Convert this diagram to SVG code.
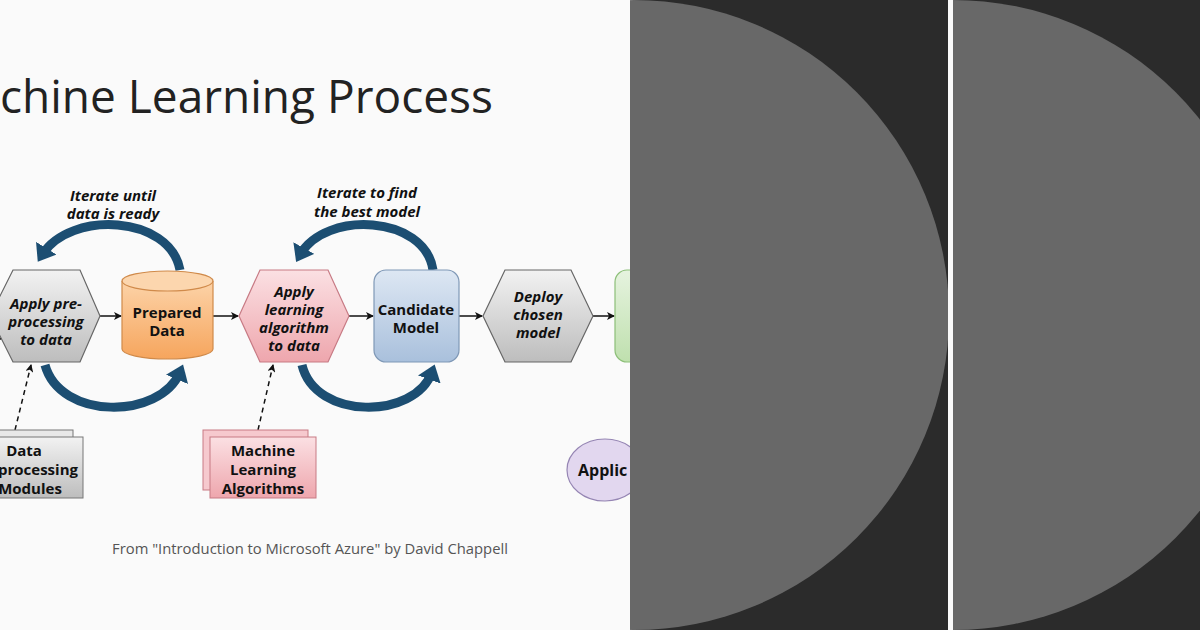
<svg xmlns="http://www.w3.org/2000/svg" width="1200" height="630" viewBox="0 0 1200 630">
<defs>
<marker id="ah" markerWidth="8" markerHeight="8" refX="7" refY="4" orient="auto" markerUnits="userSpaceOnUse"><path d="M0,0 L8,4 L0,8 L2,4 z" fill="#111"/></marker>
<marker id="bh" markerWidth="24" markerHeight="24" refX="8" refY="12" orient="auto" markerUnits="userSpaceOnUse"><path d="M0,0 L16,12 L0,24 z" fill="#1c4e72"/></marker>
<linearGradient id="gg" x1="0" y1="0" x2="0" y2="1"><stop offset="0" stop-color="#f2f2f2"/><stop offset="1" stop-color="#bdbdbd"/></linearGradient>
<linearGradient id="og" x1="0" y1="0" x2="0" y2="1"><stop offset="0" stop-color="#fcd3a8"/><stop offset="1" stop-color="#f6a55d"/></linearGradient>
<linearGradient id="pg" x1="0" y1="0" x2="0" y2="1"><stop offset="0" stop-color="#fbe0e3"/><stop offset="1" stop-color="#eea6ad"/></linearGradient>
<linearGradient id="bg" x1="0" y1="0" x2="0" y2="1"><stop offset="0" stop-color="#dde7f3"/><stop offset="1" stop-color="#a9c0dc"/></linearGradient>
<linearGradient id="grg" x1="0" y1="0" x2="0" y2="1"><stop offset="0" stop-color="#e6f3df"/><stop offset="1" stop-color="#bfe0ae"/></linearGradient>
<clipPath id="lc"><rect x="0" y="0" width="630" height="630"/></clipPath>
</defs>
<style>
.t{font-family:"Open Sans","Liberation Sans",sans-serif}
.b{font-family:"Open Sans","Liberation Sans",sans-serif;font-weight:bold;font-size:15px;fill:#111;text-anchor:middle}
.bi{font-family:"Open Sans","Liberation Sans",sans-serif;font-weight:bold;font-style:italic;font-size:15px;fill:#111;text-anchor:middle}
.c{stroke:#111;stroke-width:1.5;fill:none;marker-end:url(#ah)}
.d{stroke:#111;stroke-width:1.5;fill:none;stroke-dasharray:5,4;marker-end:url(#ah)}
.loop{stroke:#1c4e72;stroke-width:9;fill:none;marker-end:url(#bh)}
</style>
<rect width="1200" height="630" fill="#2b2b2b"/>
<rect width="634" height="630" fill="#fafafa"/>
<circle cx="634" cy="315" r="315" fill="#686868"/>
<rect x="948" y="0" width="5" height="630" fill="#fafafa"/>
<rect x="953" y="0" width="247" height="630" fill="#2b2b2b"/>
<path d="M953,0 A315,315 0 0 1 953,630 Z" fill="#686868"/>
<g clip-path="url(#lc)">
<rect width="630" height="630" fill="#fafafa"/>
<text class="t" x="0" y="113" font-size="46" fill="#222">chine Learning Process</text>
<g id="connectors">
<path class="c" d="M-10,290 L7,300"/>
<path class="c" d="M-10,345 L7,335"/>
<path class="c" d="M100,316 L121,316"/>
<path class="c" d="M213,316 L238,316"/>
<path class="c" d="M349,316 L373,316"/>
<path class="c" d="M459,316 L482,316"/>
<path class="c" d="M593,316 L614,316"/>
<path class="d" d="M15,430 L31,365"/>
<path class="d" d="M258,430 L273,365"/>
<path class="loop" d="M180,270 C170,215 70,210 42,255"/>
<path class="loop" d="M45,365 C60,420 160,420 180,372"/>
<path class="loop" d="M433,270 C425,215 325,210 300,255"/>
<path class="loop" d="M302,365 C315,420 415,420 432,372"/>
</g>
<text class="bi" x="113" y="201">Iterate until</text>
<text class="bi" x="113" y="219">data is ready</text>
<text class="bi" x="367" y="198">Iterate to find</text>
<text class="bi" x="367" y="217">the best model</text>
<g id="preprocess"><polygon points="-10,316 13,270 80,270 100,316 80,362 13,362" fill="url(#gg)" stroke="#666" stroke-width="1.2"/>
<text class="bi" x="46" y="309">Apply pre-</text><text class="bi" x="46" y="327">processing</text><text class="bi" x="46" y="345">to data</text></g>
<g id="prepared"><path d="M122,281 L122,349 A45.5,10 0 0 0 213,349 L213,281" fill="url(#og)" stroke="#d08a4a" stroke-width="1.2"/>
<ellipse cx="167.5" cy="281" rx="45.5" ry="10" fill="#fcd6ae" stroke="#d08a4a" stroke-width="1.2"/>
<text class="b" x="167" y="318">Prepared</text><text class="b" x="167" y="336">Data</text></g>
<g id="apply"><polygon points="239,316 260,270 328,270 349,316 328,362 260,362" fill="url(#pg)" stroke="#c77a84" stroke-width="1.2"/>
<text class="bi" x="294" y="297">Apply</text><text class="bi" x="294" y="315">learning</text><text class="bi" x="294" y="333">algorithm</text><text class="bi" x="294" y="351">to data</text></g>
<g id="candidate"><rect x="374" y="270" width="85" height="92" rx="12" fill="url(#bg)" stroke="#7f98b6" stroke-width="1.2"/>
<text class="b" x="416" y="315">Candidate</text><text class="b" x="416" y="333">Model</text></g>
<g id="deploy"><polygon points="483,316 505,270 571,270 593,316 571,362 505,362" fill="url(#gg)" stroke="#666" stroke-width="1.2"/>
<text class="bi" x="538" y="302">Deploy</text><text class="bi" x="538" y="320">chosen</text><text class="bi" x="538" y="338">model</text></g>
<g id="green"><rect x="615" y="270" width="60" height="92" rx="12" fill="url(#grg)" stroke="#8cbf78" stroke-width="1.2"/></g>
<g id="modules"><rect x="-30" y="430" width="103" height="60" fill="#e8e8e8" stroke="#777"/>
<rect x="-20" y="437" width="103" height="61" fill="url(#gg)" stroke="#777"/>
<text class="b" x="24" y="456">Data</text><text class="b" x="38" y="475">processing</text><text class="b" x="30" y="494">Modules</text></g>
<g id="algorithms"><rect x="203" y="430" width="105" height="60" fill="#f6c9ce" stroke="#c77a84"/>
<rect x="210" y="437" width="106" height="61" fill="url(#pg)" stroke="#c77a84"/>
<text class="b" x="263" y="456">Machine</text><text class="b" x="263" y="475">Learning</text><text class="b" x="263" y="494">Algorithms</text></g>
<g id="application"><ellipse cx="605" cy="470" rx="38" ry="31" fill="#e2d7ef" stroke="#9585b3" stroke-width="1.2"/>
<text class="b" x="578" y="476" style="text-anchor:start;font-size:16px">Applic</text></g>
<text class="t" x="310" y="554" font-size="14.8" fill="#555" text-anchor="middle">From "Introduction to Microsoft Azure" by David Chappell</text>
</g>
</svg>
